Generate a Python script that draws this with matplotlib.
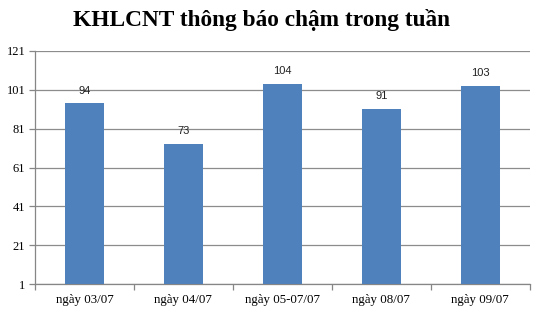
import matplotlib
matplotlib.use("Agg")
import matplotlib.pyplot as plt
import numpy as np

categories = ["ngày 03/07", "ngày 04/07", "ngày 05-07/07", "ngày 08/07", "ngày 09/07"]
values = [94, 73, 104, 91, 103]
yticks = [1, 21, 41, 61, 81, 101, 121]

fig = plt.figure(figsize=(5.4, 3.14), dpi=100)
ax = fig.add_axes([0.0648, 0.0955, 0.981 - 0.0648, 0.8376 - 0.0955])

x = np.arange(len(categories))
ax.bar(x, values, width=0.39, color="#4F81BD", zorder=3, bottom=0)
for xi, v in zip(x, values):
    ax.text(xi, v + 4, str(v), ha="center", va="bottom", fontsize=8,
            family="Liberation Sans", color="#222222")

ax.set_xlim(-0.5, len(categories) - 0.5)
ax.set_ylim(1, 121)
ax.set_yticks(yticks)
ax.set_yticklabels([str(t) for t in yticks], family="Liberation Serif", fontsize=9)
ax.grid(axis="y", color="#8c8c8c", linewidth=0.9, zorder=0)
ax.set_xticks(x)
ax.set_xticklabels(categories, family="Liberation Serif", fontsize=9.3)
ax.tick_params(axis="x", length=0, pad=7)
ax.set_xticks(np.arange(-0.5, len(categories), 1), minor=True)
ax.tick_params(axis="x", which="minor", length=4, color="#868686", width=0.9)
ax.tick_params(axis="y", length=4, color="#868686", width=0.9, pad=3)

for s in ["top", "right"]:
    ax.spines[s].set_visible(False)
for s in ["left", "bottom"]:
    ax.spines[s].set_color("#868686")
    ax.spines[s].set_linewidth(0.9)

fig.text(0.484, 0.935, "KHLCNT thông báo chậm trong tuần", ha="center", va="center",
         fontsize=16.8, fontweight="bold", family="Liberation Serif")

fig.savefig("out.png", dpi=100)
